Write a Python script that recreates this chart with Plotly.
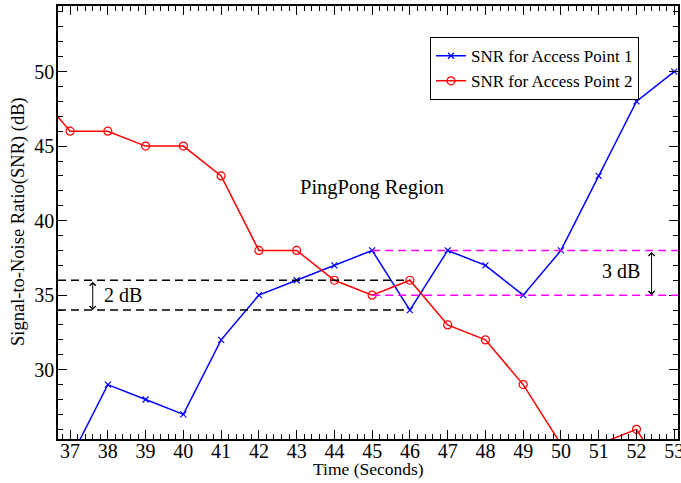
import plotly.graph_objects as go

time_ap1 = [37, 38, 39, 40, 41, 42, 43, 44, 45, 46, 47, 48, 49, 50, 51, 52, 53]
snr_ap1 = [24, 29, 28, 27, 32, 35, 36, 37, 38, 34, 38, 37, 35, 38, 43, 48, 50]
time_ap2 = [36, 37, 38, 39, 40, 41, 42, 43, 44, 45, 46, 47, 48, 49, 50, 51, 52, 53]
snr_ap2 = [49, 46, 46, 45, 45, 43, 38, 38, 36, 35, 36, 33, 32, 29, 25, 25, 26, 22]

black_levels = [36, 34]
black_span = [36.68, 46]
magenta_levels = [38, 35]
magenta_span = [45, 53.2]
x_ticks = list(range(37, 54))
y_ticks = [30, 35, 40, 45, 50]

FONT = "Liberation Serif"

L, R, T, B = 58, 3, 6, 44
W, H = 681, 483
pw, ph = W - L - R, H - T - B

fig = go.Figure()
fig.add_trace(go.Scatter(x=time_ap1, y=snr_ap1, mode="lines+markers",
                         name="SNR for Access Point 1",
                         line=dict(color="#0000ff", width=1.5),
                         marker=dict(symbol="x-thin", size=6, color="#0000ff",
                                     line=dict(color="#0000ff", width=1.2))))
fig.add_trace(go.Scatter(x=time_ap2, y=snr_ap2, mode="lines+markers",
                         name="SNR for Access Point 2",
                         line=dict(color="#ff0000", width=1.5),
                         marker=dict(symbol="circle-open", size=8, color="#ff0000",
                                     line=dict(color="#ff0000", width=1.2))))

for lv in black_levels:
    fig.add_shape(type="line", xref="x", yref="y", x0=black_span[0], x1=black_span[1],
                  y0=lv, y1=lv, line=dict(color="black", width=1.5, dash="8px,5px"))
for lv in magenta_levels:
    fig.add_shape(type="line", xref="x", yref="y", x0=magenta_span[0], x1=magenta_span[1],
                  y0=lv, y1=lv, line=dict(color="#ff00ff", width=1.5, dash="8px,5px"))

# double arrows
fig.add_annotation(x=37.6, y=black_levels[1], ax=37.6, ay=black_levels[0],
                   xref="x", yref="y", axref="x", ayref="y", text="",
                   showarrow=True, arrowhead=4, startarrowhead=4, arrowside="end+start",
                   arrowwidth=1, arrowcolor="black", arrowsize=1.2, startarrowsize=1.2)
fig.add_annotation(x=52.4, y=magenta_levels[1], ax=52.4, ay=magenta_levels[0],
                   xref="x", yref="y", axref="x", ayref="y", text="",
                   showarrow=True, arrowhead=4, startarrowhead=4, arrowside="end+start",
                   arrowwidth=1, arrowcolor="black", arrowsize=1.2, startarrowsize=1.2)
fig.add_annotation(x=37.85, y=35, xref="x", yref="y", text="2 dB", showarrow=False,
                   xanchor="left", font=dict(family=FONT, size=20, color="black"))
fig.add_annotation(x=51.6, y=36.65, xref="x", yref="y", text="3 dB", showarrow=False,
                   font=dict(family=FONT, size=20, color="black"))
fig.add_annotation(x=45, y=42.25, xref="x", yref="y", text="PingPong Region", showarrow=False,
                   font=dict(family=FONT, size=20.5, color="black"))

# axis titles (pixel positions converted to paper coords)
fig.add_annotation(x=0.5, y=1 - (469 - T) / ph, xref="paper", yref="paper",
                   xanchor="center", yanchor="middle", text="Time (Seconds)",
                   showarrow=False, font=dict(family=FONT, size=17.5, color="black"))
fig.add_annotation(x=(18 - L) / pw, y=1 - (222 - T) / ph, xref="paper", yref="paper",
                   xanchor="center", yanchor="middle",
                   text="Signal-to-Noise Ratio(SNR) (dB)", textangle=-90,
                   showarrow=False, font=dict(family=FONT, size=18.5, color="black"))

axis_common = dict(showline=True, linecolor="black", linewidth=1.5, mirror="allticks",
                   ticks="inside", ticklen=9, tickwidth=1, tickcolor="black",
                   showgrid=False, zeroline=False, automargin=False,
                   ticklabeloverflow="allow",
                   tickfont=dict(family=FONT, size=20, color="black"))

fig.update_xaxes(range=[36.68, 53.1], tickvals=x_ticks, ticklabelstandoff=-7,
                 **axis_common,
                 minor=dict(ticks="inside", ticklen=5, tickcolor="black", dtick=0.2,
                            tick0=37, showgrid=False))
fig.update_yaxes(range=[25.35, 54.4], tickvals=y_ticks, ticklabelstandoff=-2,
                 **axis_common,
                 minor=dict(ticks="inside", ticklen=5, tickcolor="black", dtick=1,
                            tick0=30, showgrid=False))

fig.update_layout(width=W, height=H,
                  margin=dict(l=L, r=R, t=T, b=B, autoexpand=False),
                  plot_bgcolor="white", paper_bgcolor="white",
                  showlegend=True,
                  legend=dict(x=0.6, y=0.928, xanchor="left", yanchor="top",
                              bgcolor="white", bordercolor="black", borderwidth=1,
                              font=dict(family=FONT, size=17, color="black"),
                              tracegroupgap=0))

fig.write_html("out.html", config={"displayModeBar": False},
               post_script="document.body.style.margin='0';")
